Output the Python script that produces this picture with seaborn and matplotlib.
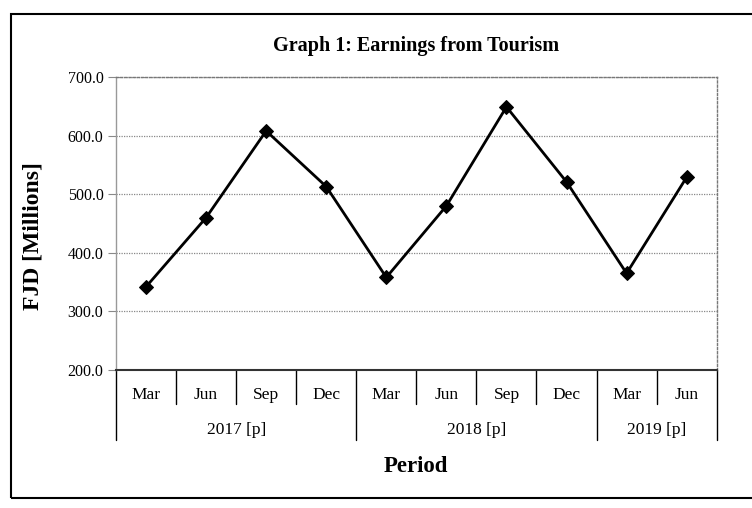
import numpy as np
import pandas as pd
import matplotlib
matplotlib.use('Agg')
import matplotlib.pyplot as plt
import matplotlib.transforms as mtransforms
from matplotlib.patches import Rectangle
import seaborn as sns

months = ['Mar', 'Jun', 'Sep', 'Dec', 'Mar', 'Jun', 'Sep', 'Dec', 'Mar', 'Jun']
years = ['2017 [p]', '2018 [p]', '2019 [p]']
year_sizes = [4, 4, 2]
earnings = [342, 460, 608, 513, 358, 480, 649, 521, 365, 529]
y_ticks = [200, 300, 400, 500, 600, 700]

sns.set_style('white')
plt.rcParams['font.family'] = ['Liberation Serif', 'DejaVu Serif']
plt.rcParams['text.color'] = 'black'
plt.rcParams['ytick.labelcolor'] = 'black'

df = pd.DataFrame({'pos': np.arange(len(months)), 'FJD': earnings})

fig = plt.figure(figsize=(7.52, 5.08), dpi=100)
ax = fig.add_axes([116 / 752, 1 - 370 / 508, 600.7 / 752, 293 / 508])

sns.lineplot(data=df, x='pos', y='FJD', ax=ax, color='black', linewidth=2,
             marker='D', markersize=7, markeredgecolor='black')

ax.set_xlim(-0.5, len(months) - 0.5)
ax.set_ylim(200, 700)
ax.set_yticks(y_ticks)
ax.set_yticklabels([f'{v:.1f}' for v in y_ticks], fontsize=11.5, color='black')
ax.tick_params(axis='y', length=6, width=0.8, color='#888888', pad=3, direction='out', left=True)
ax.set_xticks([])
ax.set_xlabel('')
ax.set_ylabel('')

# dotted gridlines
for v in y_ticks[1:]:
    ax.axhline(v, color='#888888', linewidth=0.9, linestyle=(0, (1, 1)), zorder=0)

for side in ['top', 'right']:
    ax.spines[side].set_color('#777777')
    ax.spines[side].set_linestyle((0, (1.5, 1.5)))
    ax.spines[side].set_linewidth(1.0)
ax.spines['left'].set_color('#999999')
ax.spines['left'].set_linewidth(1.0)
ax.spines['bottom'].set_color('#333333')
ax.spines['bottom'].set_linewidth(1.5)

# two-level category axis
trans = mtransforms.blended_transform_factory(ax.transData, ax.transAxes)
for i, m in enumerate(months):
    ax.text(i, -0.085, m, transform=trans, ha='center', va='center', fontsize=12.5, color='black')

bounds = np.concatenate([[0], np.cumsum(year_sizes)]) - 0.5
for b in np.arange(len(months) + 1) - 0.5:
    depth = -0.239 if b in bounds else -0.116
    ax.plot([b, b], [0, depth], transform=trans, color='black', linewidth=1, clip_on=False)
for name, start, size in zip(years, bounds[:-1], year_sizes):
    ax.text(start + size / 2, -0.205, name, transform=trans, ha='center', va='center',
            fontsize=12.5, color='black')

ax.text(0.5, -0.331, 'Period', transform=ax.transAxes, ha='center', va='center',
        fontsize=16.5, fontweight='bold', color='black')
fig.text(33 / 752, 1 - 236 / 508, 'FJD [Millions]', rotation=90,
         ha='center', va='center', fontsize=17, fontweight='bold', color='black')
fig.text(416 / 752, 1 - 46 / 508, 'Graph 1: Earnings from Tourism', ha='center', va='center',
         fontsize=14.5, fontweight='bold', color='black')

fig.patches.append(Rectangle((11 / 752, 1 - 498 / 508), 1.0, (498 - 14) / 508,
                             transform=fig.transFigure, fill=False, edgecolor='black', linewidth=1.5))

fig.savefig('out.png', dpi=100)
